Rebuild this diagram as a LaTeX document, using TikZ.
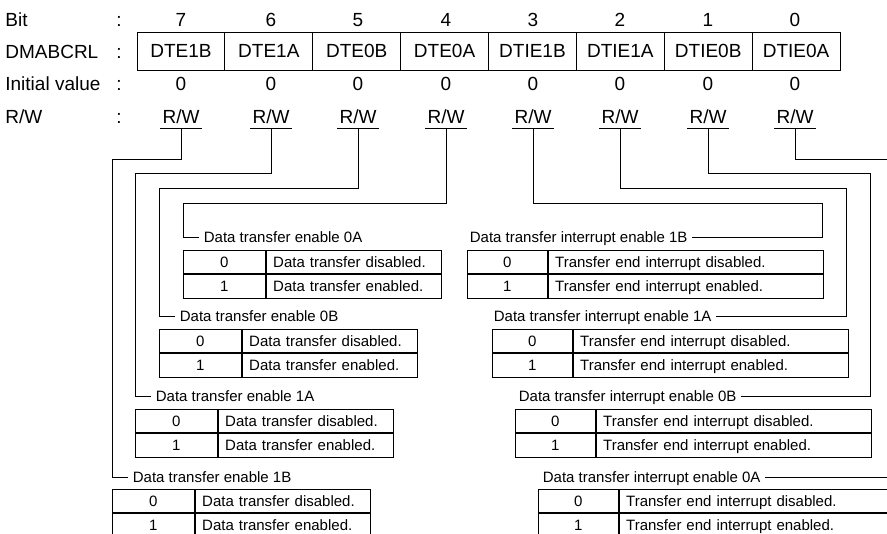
\documentclass[tikz,border=0pt]{standalone}
\usepackage{fontspec}
\setmainfont{Liberation Sans}
\begin{document}
\begin{tikzpicture}[x=1pt,y=-1pt, line width=0.8pt,
  big/.style={font=\fontsize{19}{22}\selectfont, inner sep=0pt, text height=13.6pt, text depth=0pt},
  small/.style={font=\fontsize{15}{18}\selectfont, text height=10.8pt, text depth=0pt},
  regcell/.style={big, draw, minimum width=87.875pt, minimum height=38pt},
  rwbox/.style={big, minimum height=22pt, minimum width=41pt},
  valL/.style={small, draw, inner sep=0pt, minimum width=82pt, minimum height=23.5pt, anchor=north west},
  descL/.style={small, draw, inner ysep=0pt, inner xsep=7pt, text width=161pt, align=left, minimum height=23.5pt, anchor=north west},
  valR/.style={small, draw, inner sep=0pt, minimum width=80pt, minimum height=23.5pt, anchor=north west},
  descR/.style={small, draw, inner ysep=0pt, inner xsep=7pt, text width=261pt, align=left, minimum height=23.5pt, anchor=north west},
  lab/.style={small, inner ysep=3pt, inner xsep=4.5pt, anchor=west},
  conn/.style={draw, line width=0.8pt}
]
\useasboundingbox (0,0) rectangle (887,534);
\clip (0,0) rectangle (887,534);

% left headings
\node[big, anchor=west] (hbit) at (5,20) {Bit};
\node[big, anchor=west] (hreg) at (5,52) {DMABCRL};
\node[big, anchor=west] (hinit) at (5,84) {Initial value};
\node[big, anchor=west] (hrw) at (5,117) {R/W};
\foreach \y/\n in {20/a,52/b,84/c,117/d} \node[big] (colon\n) at (119,\y) {:};

% register cells
\foreach \i/\t in {0/DTE1B,1/DTE1A,2/DTE0B,3/DTE0A,4/DTIE1B,5/DTIE1A,6/DTIE0B,7/DTIE0A}
  \node[regcell] (reg\i) at ({137+87.875*(\i+0.5)},51) {\t};

% bit numbers, initial values, R/W
\foreach \b/\x in {7/181,6/271,5/358,4/446,3/533,2/620,1/708,0/795} {
  \node[big] (bit\b) at (\x,20) {\b};
  \node[big] (init\b) at (\x,84) {0};
  \node[rwbox] (rw\b) at (\x,117) {R/W};
  \draw (rw\b.south west) -- (rw\b.south east);
}

% ---------- left tables ----------
% 0A
\node[lab] (a0lab) at (199,237) {Data transfer enable 0A};
\node[valL] (a0v0) at (183,250) {0};
\node[descL] (a0d0) at (a0v0.north east) {Data transfer disabled.};
\node[valL] (a0v1) at (a0v0.south west) {1};
\node[descL] (a0d1) at (a0v1.north east) {Data transfer enabled.};
% 0B
\node[lab] (a1lab) at (175,316) {Data transfer enable 0B};
\node[valL] (a1v0) at (159,329) {0};
\node[descL] (a1d0) at (a1v0.north east) {Data transfer disabled.};
\node[valL] (a1v1) at (a1v0.south west) {1};
\node[descL] (a1d1) at (a1v1.north east) {Data transfer enabled.};
% 1A
\node[lab] (a2lab) at (151,396) {Data transfer enable 1A};
\node[valL] (a2v0) at (135,409) {0};
\node[descL] (a2d0) at (a2v0.north east) {Data transfer disabled.};
\node[valL] (a2v1) at (a2v0.south west) {1};
\node[descL] (a2d1) at (a2v1.north east) {Data transfer enabled.};
% 1B
\node[lab] (a3lab) at (128,477) {Data transfer enable 1B};
\node[valL] (a3v0) at (112,489) {0};
\node[descL] (a3d0) at (a3v0.north east) {Data transfer disabled.};
\node[valL] (a3v1) at (a3v0.south west) {1};
\node[descL] (a3d1) at (a3v1.north east) {Data transfer enabled.};

% ---------- right tables ----------
% 1B
\node[lab] (b3lab) at (465,237) {Data transfer interrupt enable 1B};
\node[valR] (b3v0) at (467,250) {0};
\node[descR] (b3d0) at (b3v0.north east) {Transfer end interrupt disabled.};
\node[valR] (b3v1) at (b3v0.south west) {1};
\node[descR] (b3d1) at (b3v1.north east) {Transfer end interrupt enabled.};
% 1A
\node[lab] (b2lab) at (489,316) {Data transfer interrupt enable 1A};
\node[valR] (b2v0) at (492,329) {0};
\node[descR] (b2d0) at (b2v0.north east) {Transfer end interrupt disabled.};
\node[valR] (b2v1) at (b2v0.south west) {1};
\node[descR] (b2d1) at (b2v1.north east) {Transfer end interrupt enabled.};
% 0B
\node[lab] (b1lab) at (514,396) {Data transfer interrupt enable 0B};
\node[valR] (b1v0) at (515,409) {0};
\node[descR] (b1d0) at (b1v0.north east) {Transfer end interrupt disabled.};
\node[valR] (b1v1) at (b1v0.south west) {1};
\node[descR] (b1d1) at (b1v1.north east) {Transfer end interrupt enabled.};
% 0A
\node[lab] (b0lab) at (538,477) {Data transfer interrupt enable 0A};
\node[valR] (b0v0) at (538,489) {0};
\node[descR] (b0d0) at (b0v0.north east) {Transfer end interrupt disabled.};
\node[valR] (b0v1) at (b0v0.south west) {1};
\node[descR] (b0d1) at (b0v1.north east) {Transfer end interrupt enabled.};

% ---------- connectors ----------
\coordinate (t7) at (112,159);
\coordinate (t6) at (135,173);
\coordinate (t5) at (159,188);
\coordinate (t4) at (183,203);
\coordinate (t3) at (822,203);
\coordinate (t2) at (846,188);
\coordinate (t1) at (870,173);
\coordinate (t0) at (900,159);

\draw[conn] (rw7.south) |- (t7) |- (a3lab.west);
\draw[conn] (rw6.south) |- (t6) |- (a2lab.west);
\draw[conn] (rw5.south) |- (t5) |- (a1lab.west);
\draw[conn] (rw4.south) |- (t4) |- (a0lab.west);
\draw[conn] (rw3.south) |- (t3) |- (b3lab.east);
\draw[conn] (rw2.south) |- (t2) |- (b2lab.east);
\draw[conn] (rw1.south) |- (t1) |- (b1lab.east);
\draw[conn] (rw0.south) |- (t0) |- (b0lab.east);
\end{tikzpicture}
\end{document}
